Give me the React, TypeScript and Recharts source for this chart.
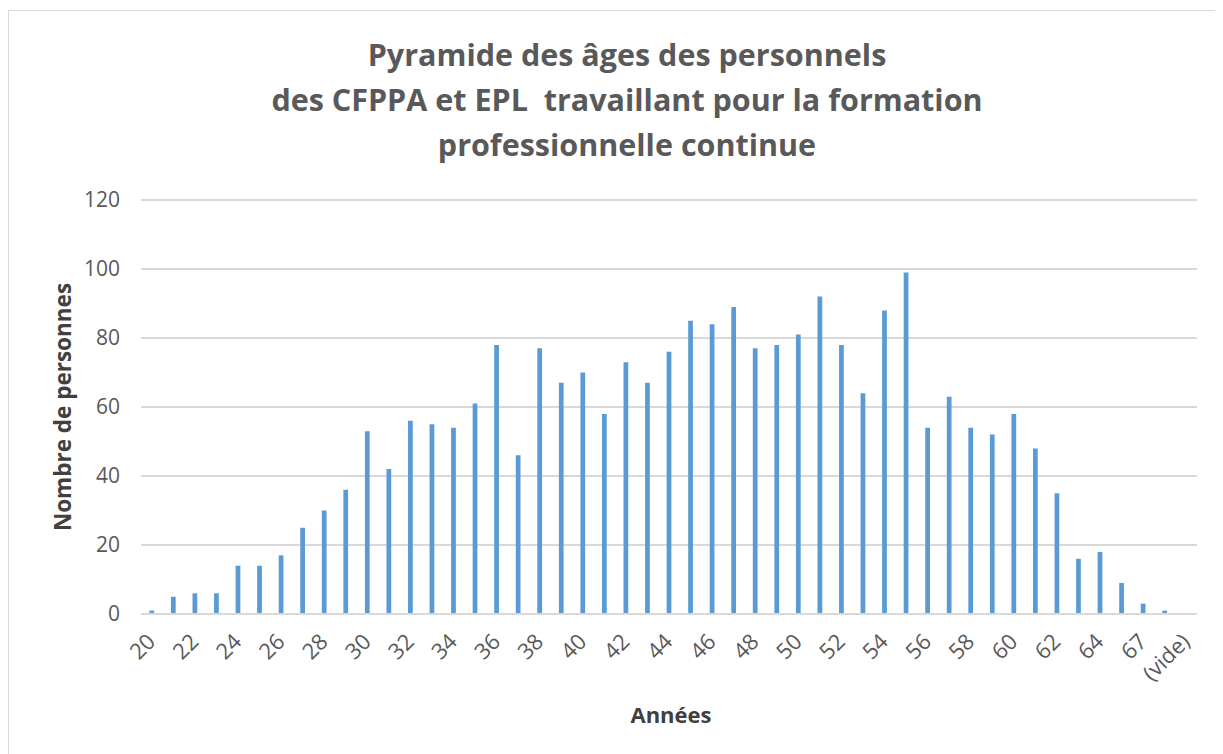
import React from "react";
import { BarChart, Bar, XAxis, YAxis, CartesianGrid } from "recharts";

// ages (x categories) and headcount per age
const ages = [
  "20", "21", "22", "23", "24", "25", "26", "27", "28", "29",
  "30", "31", "32", "33", "34", "35", "36", "37", "38", "39",
  "40", "41", "42", "43", "44", "45", "46", "47", "48", "49",
  "50", "51", "52", "53", "54", "55", "56", "57", "58", "59",
  "60", "61", "62", "63", "64", "65", "67", "68", "(vide)",
];
const counts = [
  1, 5, 6, 6, 14, 14, 17, 25, 30, 36,
  53, 42, 56, 55, 54, 61, 78, 46, 77, 67,
  70, 58, 73, 67, 76, 85, 84, 89, 77, 78,
  81, 92, 78, 64, 88, 99, 54, 63, 54, 52,
  58, 48, 35, 16, 18, 9, 3, 1, null,
];
const yTicks = [0, 20, 40, 60, 80, 100, 120];

const titleLines = [
  "Pyramide des âges des personnels",
  "des CFPPA et EPL  travaillant pour la formation",
  "professionnelle continue",
];

const data = ages.map((a, i) => ({ age: a, value: counts[i] }));

const FONT = "'Open Sans', sans-serif";

function AgeTick(props: any) {
  const { x, y, payload } = props;
  const ax = x + 5;
  const ay = y + 29;
  return (
    <text
      x={ax}
      y={ay}
      transform={`rotate(-45, ${ax}, ${ay})`}
      textAnchor="end"
      fill="#595959"
      fontSize={22}
      fontFamily={FONT}
    >
      {payload.value}
    </text>
  );
}

export default function App() {
  return (
    <div
      style={{
        position: "relative",
        width: 1230,
        height: 760,
        marginTop: 2,
        border: "1px solid #d9d9d9",
        background: "#fff",
        fontFamily: FONT,
      }}
    >
      <div
        style={{
          position: "absolute",
          left: 0,
          top: 21,
          width: 1236,
          textAlign: "center",
          fontSize: 30.5,
          lineHeight: "45px",
          fontWeight: 700,
          color: "#595959",
          whiteSpace: "pre",
        }}
      >
        {titleLines.map((l) => (
          <div key={l}>{l}</div>
        ))}
      </div>
      <BarChart
        width={1230}
        height={760}
        data={data}
        margin={{ top: 189, right: 42, bottom: 77, left: 72 }}
        barCategoryGap="61%"
      >
        <CartesianGrid vertical={false} stroke="#d9d9d9" strokeWidth={2} />
        <XAxis
          dataKey="age"
          interval={1}
          tickLine={false}
          tickSize={0}
          tickMargin={0}
          axisLine={{ stroke: "#d9d9d9", strokeWidth: 2 }}
          tick={<AgeTick />}
          height={80}
        />
        <YAxis
          width={60}
          domain={[0, 120]}
          ticks={yTicks}
          axisLine={false}
          tickLine={false}
          tickSize={0}
          tickMargin={21}
          tick={{ fill: "#595959", fontSize: 21, fontFamily: FONT }}
        />
        <Bar dataKey="value" fill="#5b9bd5" isAnimationActive={false} />
      </BarChart>
      <div
        style={{
          position: "absolute",
          left: 53,
          top: 396,
          transform: "translate(-50%, -50%) rotate(-90deg)",
          fontSize: 22.5,
          fontWeight: 700,
          color: "#404040",
          whiteSpace: "nowrap",
        }}
      >
        Nombre de personnes
      </div>
      <div
        style={{
          position: "absolute",
          left: 662,
          top: 703,
          transform: "translate(-50%, -50%)",
          fontSize: 22,
          fontWeight: 700,
          color: "#404040",
          whiteSpace: "nowrap",
        }}
      >
        Années
      </div>
    </div>
  );
}
